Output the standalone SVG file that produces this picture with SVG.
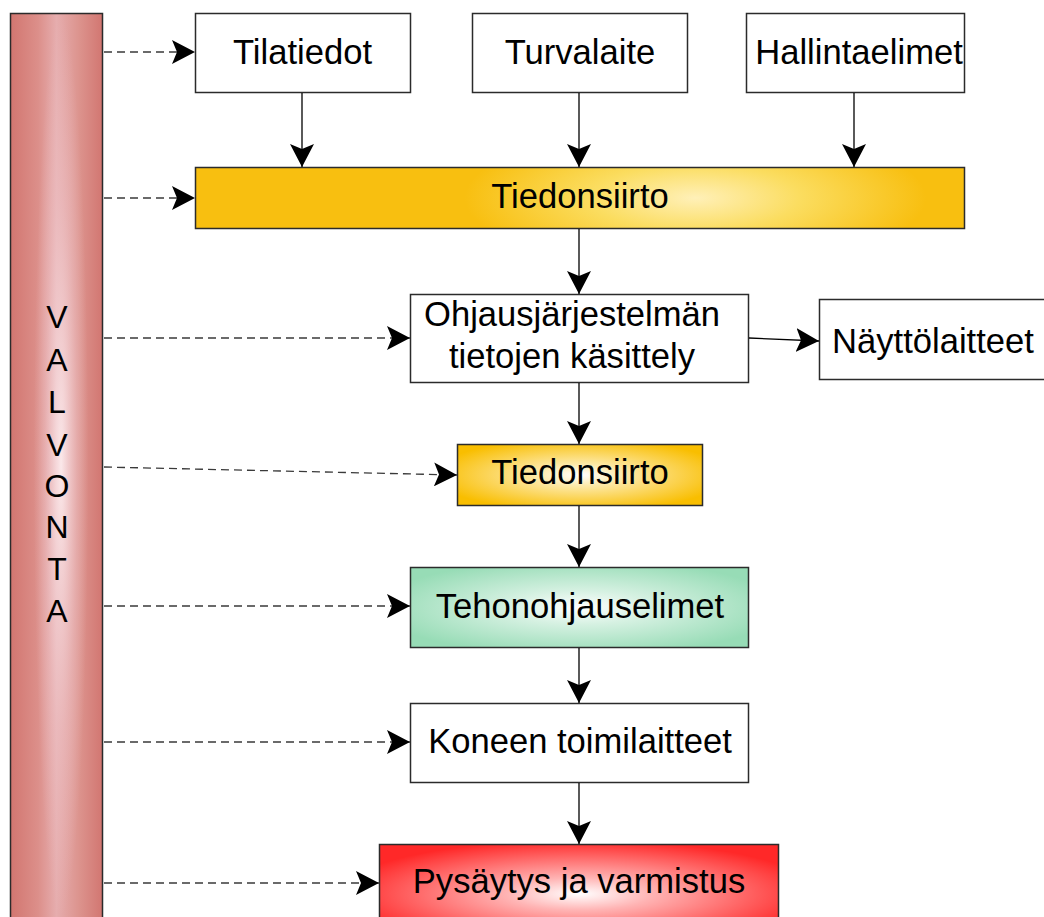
<svg xmlns="http://www.w3.org/2000/svg" width="1044" height="917" viewBox="0 0 1044 917">
<style>
.box{stroke:#2b2b2b;stroke-width:1.5}
.t{font-family:"Liberation Sans",Arial,sans-serif;font-size:34.6px;fill:#000;text-anchor:middle}
.v{font-family:"Liberation Sans",Arial,sans-serif;font-size:32px;fill:#000;text-anchor:middle}
.solid{stroke:#000;stroke-width:1.3;fill:none}
.dash{stroke:#3a3a3a;stroke-width:1.3;fill:none;stroke-dasharray:8 5}
</style>
<defs>
<marker id="ah" markerUnits="userSpaceOnUse" markerWidth="24" markerHeight="24" viewBox="0 0 24 24" refX="23" refY="12" orient="auto">
<path d="M0,0 L23,12 L0,24 L5,12 z" fill="#000"/>
</marker>
<linearGradient id="gBar" x1="0" y1="0" x2="1" y2="0">
<stop offset="0" stop-color="#d27670"/>
<stop offset="0.3" stop-color="#dc8f8a"/>
<stop offset="0.5" stop-color="#e6adae"/>
<stop offset="0.75" stop-color="#dc938d"/>
<stop offset="1" stop-color="#d27671"/>
</linearGradient>
<radialGradient id="gBarHi" cx="0.55" cy="0.5" r="0.5" gradientTransform="translate(0.55 0.5) scale(0.6 1) translate(-0.55 -0.5)">
<stop offset="0" stop-color="#fff4f6" stop-opacity="0.85"/>
<stop offset="0.6" stop-color="#f3d0d6" stop-opacity="0.35"/>
<stop offset="1" stop-color="#f3d0d6" stop-opacity="0"/>
</radialGradient>
<radialGradient id="gGoldBig" cx="0.65" cy="0.5" r="0.3" gradientTransform="translate(0.65 0.5) scale(1 4) translate(-0.65 -0.5)">
<stop offset="0" stop-color="#fff0b8"/>
<stop offset="0.45" stop-color="#fbdd60"/>
<stop offset="1" stop-color="#f8bf10"/>
</radialGradient>
<radialGradient id="gGold" cx="0.5" cy="0.5" r="0.6">
<stop offset="0" stop-color="#ffffff"/>
<stop offset="0.3" stop-color="#fde9a8"/>
<stop offset="1" stop-color="#f9be00"/>
</radialGradient>
<radialGradient id="gGreen" cx="0.5" cy="0.5" r="0.6">
<stop offset="0" stop-color="#ffffff"/>
<stop offset="0.35" stop-color="#d6f1e2"/>
<stop offset="1" stop-color="#97dcb6"/>
</radialGradient>
<radialGradient id="gRed" cx="0.5" cy="0.55" r="0.6">
<stop offset="0" stop-color="#ffffff"/>
<stop offset="0.3" stop-color="#ffb4b4"/>
<stop offset="1" stop-color="#ff2828"/>
</radialGradient>
</defs>
<rect width="1044" height="917" fill="#fff"/>

<g id="valvonta">
<rect class="box" x="10.5" y="13.5" width="92" height="920" fill="url(#gBar)"/>
<rect x="11" y="14" width="91" height="903" fill="url(#gBarHi)"/>
<text class="v" x="57" y="328">V</text>
<text class="v" x="57" y="371">A</text>
<text class="v" x="57" y="413">L</text>
<text class="v" x="57" y="456">V</text>
<text class="v" x="57" y="497">O</text>
<text class="v" x="57" y="538">N</text>
<text class="v" x="57" y="580">T</text>
<text class="v" x="57" y="622">A</text>
</g>

<g id="tilatiedot">
<rect class="box" x="195.5" y="13.5" width="215" height="79" fill="#fff"/>
<text class="t" x="302.5" y="64">Tilatiedot</text>
</g>
<g id="turvalaite">
<rect class="box" x="472.5" y="13.5" width="215" height="79" fill="#fff"/>
<text class="t" x="580" y="64">Turvalaite</text>
</g>
<g id="hallintaelimet">
<rect class="box" x="746.5" y="13.5" width="218" height="79" fill="#fff"/>
<text class="t" x="859" y="64">Hallintaelimet</text>
</g>
<g id="tiedonsiirto1">
<rect class="box" x="195.5" y="167.5" width="769" height="61" fill="url(#gGoldBig)"/>
<text class="t" x="580" y="208">Tiedonsiirto</text>
</g>
<g id="ohjaus">
<rect class="box" x="410.5" y="294.5" width="338" height="88" fill="#fff"/>
<text class="t" x="572" y="326">Ohjausjärjestelmän</text>
<text class="t" x="572" y="368">tietojen käsittely</text>
</g>
<g id="nayttolaitteet">
<rect class="box" x="819.5" y="299.5" width="226" height="80" fill="#fff"/>
<text class="t" x="933" y="353">Näyttölaitteet</text>
</g>
<g id="tiedonsiirto2">
<rect class="box" x="457.5" y="444.5" width="245" height="61" fill="url(#gGold)"/>
<text class="t" x="580" y="484">Tiedonsiirto</text>
</g>
<g id="tehonohjauselimet">
<rect class="box" x="410.5" y="567.5" width="338" height="80" fill="url(#gGreen)"/>
<text class="t" x="580" y="618">Tehonohjauselimet</text>
</g>
<g id="koneen">
<rect class="box" x="410.5" y="703.5" width="338" height="79" fill="#fff"/>
<text class="t" x="580" y="753">Koneen toimilaitteet</text>
</g>
<g id="pysaytys">
<rect class="box" x="379.5" y="844.5" width="399" height="90" fill="url(#gRed)"/>
<text class="t" x="579" y="893">Pysäytys ja varmistus</text>
</g>

<g id="connectors">
<line class="solid" x1="302" y1="93" x2="302" y2="167" marker-end="url(#ah)"/>
<line class="solid" x1="579" y1="93" x2="579" y2="167" marker-end="url(#ah)"/>
<line class="solid" x1="854" y1="93" x2="854" y2="167" marker-end="url(#ah)"/>
<line class="solid" x1="579" y1="229" x2="579" y2="294" marker-end="url(#ah)"/>
<line class="solid" x1="579" y1="383" x2="579" y2="444" marker-end="url(#ah)"/>
<line class="solid" x1="579" y1="506" x2="579" y2="567" marker-end="url(#ah)"/>
<line class="solid" x1="579" y1="648" x2="579" y2="703" marker-end="url(#ah)"/>
<line class="solid" x1="579" y1="783" x2="579" y2="844" marker-end="url(#ah)"/>
<line class="solid" x1="749" y1="338" x2="819" y2="341" marker-end="url(#ah)"/>
<line class="dash" x1="104" y1="52" x2="195" y2="52" marker-end="url(#ah)"/>
<line class="dash" x1="104" y1="198" x2="195" y2="198" marker-end="url(#ah)"/>
<line class="dash" x1="104" y1="338" x2="410" y2="338" marker-end="url(#ah)"/>
<line class="dash" x1="104" y1="467" x2="457" y2="475" marker-end="url(#ah)"/>
<line class="dash" x1="104" y1="606" x2="410" y2="606" marker-end="url(#ah)"/>
<line class="dash" x1="104" y1="742" x2="410" y2="742" marker-end="url(#ah)"/>
<line class="dash" x1="104" y1="883" x2="379" y2="883" marker-end="url(#ah)"/>
</g>
</svg>
